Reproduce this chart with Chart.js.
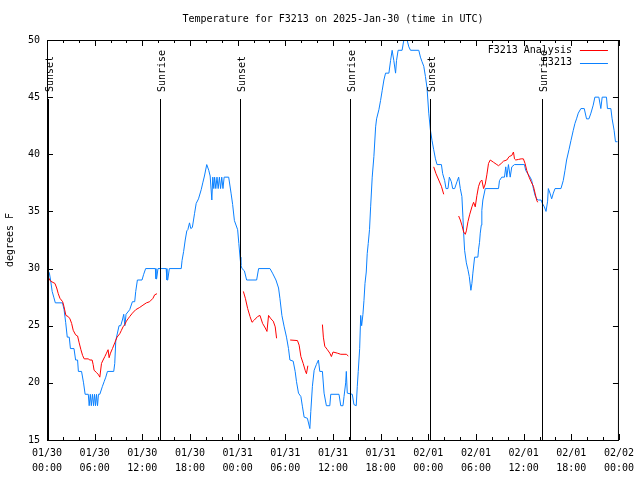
<!DOCTYPE html>
<html>
<head>
<meta charset="utf-8">
<script src="https://cdn.jsdelivr.net/npm/chart.js@4"></script>
<style>
  html, body { margin: 0; padding: 0; background: #fff; }
  canvas { display: block; }
</style>
</head>
<body>
<canvas id="chart" width="640" height="480"></canvas>
<script>
'use strict';

// ── Colours / fonts ──────────────────────────────────────────────────────
const COL_ANALYSIS = '#ff0000';
const COL_OBS      = '#0a80ff';
const FONT         = '10px "DejaVu Sans Mono", "Liberation Mono", monospace';

// ── Data (hours since 2025-01-30 00:00 UTC) ──────────────────────────────
const obsHours = [
  0.0, 0.3, 0.45, 0.65, 0.85, 1.05, 1.95, 2.15, 2.35, 2.55, 2.8, 2.95, 3.4, 3.6, 3.85, 3.95, 4.35, 4.6, 4.8, 5.2,
  5.28, 5.31, 5.45, 5.58, 5.72, 5.86, 5.98, 6.11, 6.23, 6.36, 6.48, 6.65, 6.98, 7.19, 7.4, 7.61, 8.4, 8.53, 8.66,
  9.07, 9.28, 9.49, 9.66, 9.8, 9.95, 10.41, 10.75, 11.04, 11.17, 11.38, 11.96, 12.17, 12.42, 13.64, 13.72, 13.8,
  13.97, 15.0, 15.1, 15.2, 15.4, 16.9, 17.0, 17.2, 17.4, 17.6, 17.73, 17.94, 18.1, 18.3, 18.57, 18.78, 19.07,
  19.41, 19.61, 19.82, 20.11, 20.36, 20.54, 20.75, 20.87, 21.0, 21.1, 21.25, 21.4, 21.55, 21.7, 21.85, 22.0,
  22.15, 22.3, 22.87, 23.17, 23.37, 23.59, 24.0, 24.15, 24.3, 24.4, 24.55, 24.85, 25.13, 26.39, 26.64, 28.07,
  28.39, 28.82, 29.15, 29.32, 29.57, 29.86, 30.15, 30.4, 30.58, 30.99, 31.24, 31.41, 31.66, 31.96, 32.16, 32.37,
  32.78, 33.09, 33.21, 33.41, 33.63, 33.91, 34.17, 34.34, 34.67, 34.88, 35.17, 35.6, 35.72, 36.76, 36.98, 37.26,
  37.39, 37.6, 37.68, 37.8, 38.43, 38.64, 38.93, 39.06, 39.18, 39.36, 39.49, 39.61, 39.77, 39.9, 40.03, 40.19,
  40.31, 40.44, 40.6, 40.74, 40.94, 41.15, 41.37, 41.49, 41.78, 41.99, 42.2, 42.41, 42.62, 43.04, 43.25, 43.45,
  43.66, 43.88, 44.0, 44.2, 44.7, 44.92, 45.33, 45.55, 45.76, 46.8, 47.01, 47.21, 47.43, 47.64, 47.84, 48.06,
  48.27, 48.47, 48.68, 48.9, 49.1, 49.65, 49.81, 50.06, 50.23, 50.48, 50.65, 50.9, 51.07, 51.32, 51.61, 51.82,
  52.03, 52.23, 52.36, 52.45, 52.57, 52.79, 52.99, 53.16, 53.36, 53.49, 53.61, 53.83, 54.24, 54.33, 54.45, 54.54,
  54.67, 54.74, 54.87, 55.17, 56.84, 56.96, 57.25, 57.59, 57.75, 57.88, 58.09, 58.31, 58.51, 58.85, 60.1, 60.26,
  60.51, 60.82, 61.02, 61.23, 61.44, 61.64, 61.86, 62.2, 62.36, 62.61, 62.82, 63.02, 63.11, 63.32, 63.53, 63.74,
  63.95, 64.7, 64.99, 65.21, 65.41, 65.71, 65.96, 66.25, 66.46, 66.66, 66.88, 67.21, 67.63, 67.92, 68.22, 68.47,
  68.76, 68.97, 69.47, 69.72, 69.89, 70.43, 70.55, 70.98, 71.14, 71.39, 71.56, 71.81
];
const obsTemps = [
  30, 29.6, 29, 28, 27.5, 27, 27, 26.4, 25.3, 24, 24, 23, 23, 22, 22, 21, 21, 20, 19, 19,
  19, 18, 19, 18, 19, 18, 19, 18, 19, 18, 19, 19, 19.7, 20.1, 20.5, 21, 21, 21.7, 23.7,
  25, 25, 25.5, 26, 25, 26, 26.4, 27.1, 27.1, 28, 29, 29, 29.5, 30, 30, 29.1, 29.1,
  30, 30, 29, 29, 30, 30, 30.7, 31.5, 32.5, 33.3, 33.4, 34.0, 33.5, 33.6, 34.8, 35.7, 36.1,
  36.9, 37.5, 38.1, 39.1, 38.6, 38.1, 36.0, 38, 37, 38, 37, 38, 37, 38, 37, 38,
  37, 38, 38, 36.6, 35.6, 34.2, 33.4, 32.2, 31, 30.3, 30, 29.8, 29, 29, 30, 30,
  29.6, 29, 28.3, 27.4, 25.9, 24.9, 24, 23, 22, 21.9, 21, 20.1, 19.1, 18.8, 17.9, 17,
  16.9, 16.0, 17.5, 19.7, 21.1, 21.6, 22.0, 21, 21, 19.1, 18, 18, 19, 19, 18, 18,
  18.8, 20, 21, 19.1, 19, 18.1, 18, 19.7, 21, 23, 25.9, 25, 26, 27.2, 28.7, 29.7,
  31.3, 32.2, 33.4, 35.4, 38.0, 39.8, 42.4, 43.1, 43.9, 44.7, 45.6, 46.5, 47.1, 47.1, 48.2, 49.1,
  48.2, 47.1, 48.2, 49.1, 49.1, 50, 50, 49.4, 49.1, 49.1, 48.5, 48.1, 47.7, 46.8, 45.8, 43.6,
  42.1, 41.2, 40.4, 39.6, 39.1, 39.1, 38.3, 37.7, 37, 37, 38, 37.6, 37, 37, 37.6, 38,
  37, 36.3, 34.5, 33.1, 31.6, 30.5, 29.9, 29.3, 28.1, 28.7, 29.6, 31, 31, 31.7, 32.3, 33.1,
  33.8, 35.1, 36.0, 37, 37, 37.7, 38, 38, 38.9, 38, 39.1, 38, 38.9, 39.1, 39.1, 38.6,
  38.3, 38, 37.7, 37, 36.4, 36.1, 36.0, 36, 35.7, 35.4, 35.0, 35.9, 37.0, 36.6, 36.1, 36.6,
  37, 37, 37.7, 38.6, 39.5, 40.4, 41.2, 42.1, 42.7, 43.1, 43.6, 44.0, 44.0, 43.1, 43.1, 43.6,
  44.3, 45.0, 45, 44.0, 45, 45, 44, 44, 43.1, 42.1, 41.1, 41.1
];

// null temperature = gap in the analysis line
const anaHours = [
  0.1, 0.45, 1.0, 1.22, 1.42, 1.63, 1.97, 2.13, 2.38, 2.67, 2.89, 3.1, 3.3, 3.6, 3.85, 4.05, 4.27, 4.48, 4.68,
  5.18, 5.4, 5.68, 5.81, 5.93, 6.24, 6.49, 6.65, 6.86, 7.06, 7.28, 7.49, 7.69, 7.82, 7.99, 8.24, 8.53, 8.82,
  9.16, 9.37, 9.57, 9.79, 10.0, 10.2, 10.41, 10.75, 11.17, 11.67, 12.08, 12.51, 12.92, 13.34, 13.55, 13.84,
  19.0,
  24.72, 24.97, 25.26, 25.56, 25.81, 26.1, 26.51, 26.81, 27.14, 27.48, 27.69, 27.89, 28.19, 28.48, 28.73, 28.9,
  29.8,
  30.61, 31.53, 31.74, 31.96, 32.25, 32.5, 32.66, 32.84,
  33.8,
  34.67, 34.79, 34.97, 35.3, 35.6, 35.8, 36.01, 36.55, 36.98, 37.39, 37.68, 37.93,
  43.0,
  48.68, 48.97, 49.31, 49.65, 49.94,
  51.0,
  51.82, 52.03, 52.23, 52.45, 52.66, 52.79, 52.99, 53.2, 53.49, 53.7, 53.91, 54.12, 54.33, 54.54, 54.74, 54.96,
  55.17, 55.37, 55.58, 55.8, 56.21, 56.63, 56.84, 57.18, 57.47, 57.88, 58.18, 58.51, 58.72, 58.85, 59.01, 59.35,
  59.69, 59.97, 60.18, 60.39, 60.69, 60.94, 61.23, 61.44, 61.64, 61.77
];
const anaTemps = [
  29.3, 28.9, 28.7, 28.3, 27.8, 27.4, 27.1, 26.7, 25.9, 25.8, 25.6, 25.2, 24.6, 24.2, 24.1, 23.5, 22.9, 22.4, 22.1,
  22.1, 22.0, 22, 21.6, 21.1, 20.9, 20.7, 20.5, 21.7, 22.0, 22.3, 22.6, 22.9, 22.2, 22.6, 23.0, 23.5, 24.0,
  24.3, 24.6, 24.9, 25.1, 25.4, 25.6, 25.8, 26.1, 26.4, 26.6, 26.8, 27.0, 27.1, 27.4, 27.7, 27.8,
  null,
  28.0, 27.4, 26.5, 25.8, 25.3, 25.5, 25.8, 25.9, 25.2, 24.8, 24.5, 25.9, 25.6, 25.4, 24.9, 23.9,
  null,
  23.75, 23.7, 23.3, 22.3, 21.7, 21.1, 20.8, 21.5,
  null,
  25.1, 24.0, 23.2, 22.9, 22.6, 22.3, 22.7, 22.6, 22.5, 22.5, 22.5, 22.35,
  null,
  38.9, 38.3, 37.75, 37.2, 36.5,
  null,
  34.6, 34.25, 33.8, 33.2, 33.0, 33.3, 34.1, 34.7, 35.4, 35.8, 35.4, 36.4, 37.2, 37.6, 37.75, 37.0,
  37.4, 38.2, 39.2, 39.5, 39.3, 39.1, 39.0, 39.2, 39.4, 39.5, 39.8, 39.9, 40.2, 39.6, 39.5, 39.55,
  39.6, 39.6, 39.2, 38.6, 38.0, 37.6, 37.2, 36.6, 36.0, 35.8
];

// Sunrise / sunset markers
const eventHours  = [0.1, 14.18, 24.3, 38.18, 48.27, 62.27];
const eventLabels = ['Sunset', 'Sunrise', 'Sunset', 'Sunrise', 'Sunset', 'Sunrise'];

// Tick labels every 6 hours
const xTickDates = ['01/30', '01/30', '01/30', '01/30', '01/31', '01/31', '01/31', '01/31',
                    '02/01', '02/01', '02/01', '02/01', '02/02'];
const xTickTimes = ['00:00', '06:00', '12:00', '18:00', '00:00', '06:00', '12:00', '18:00',
                    '00:00', '06:00', '12:00', '18:00', '00:00'];

const toPoints = (xs, ys) => xs.map((x, i) => ({ x, y: ys[i] }));

// ── Gnuplot-style frame, inward ticks, markers, legend, titles ───────────
const framePlugin = {
  id: 'frame',
  afterDraw(chart) {
    const { ctx, chartArea: a, scales: { x, y } } = chart;
    ctx.save();
    ctx.strokeStyle = '#000';
    ctx.lineWidth = 1;
    ctx.strokeRect(a.left + 0.5, a.top + 0.5, a.right - a.left - 1, a.bottom - a.top);

    // x ticks every 2 h, longer every 6 h, on bottom and top
    ctx.beginPath();
    for (let h = 0; h <= 72; h += 2) {
      const px = Math.round(x.getPixelForValue(h)) + 0.5;
      const len = h % 6 === 0 ? 6 : 3;
      ctx.moveTo(px, a.bottom); ctx.lineTo(px, a.bottom - len);
      ctx.moveTo(px, a.top);    ctx.lineTo(px, a.top + len);
    }
    for (let v = 15; v <= 50; v += 5) {
      const py = Math.round(y.getPixelForValue(v)) + 0.5;
      ctx.moveTo(a.left, py);  ctx.lineTo(a.left + 6, py);
      ctx.moveTo(a.right, py); ctx.lineTo(a.right - 6, py);
    }
    ctx.stroke();

    // sunrise / sunset lines with rotated labels
    ctx.font = FONT;
    ctx.fillStyle = '#000';
    eventHours.forEach((h, i) => {
      const px = Math.round(x.getPixelForValue(h)) + 0.5;
      ctx.beginPath();
      ctx.moveTo(px, a.top + 59);
      ctx.lineTo(px, a.bottom);
      ctx.stroke();
      ctx.save();
      ctx.translate(px + 2, a.top + 52);
      ctx.rotate(-Math.PI / 2);
      ctx.textAlign = 'left';
      ctx.textBaseline = 'middle';
      ctx.fillText(eventLabels[i], 0, 0);
      ctx.restore();
    });

    // legend (top right, inside plot)
    const items = [['F3213 Analysis', COL_ANALYSIS], ['F3213', COL_OBS]];
    ctx.textAlign = 'right';
    ctx.textBaseline = 'middle';
    items.forEach(([label, col], i) => {
      const ly = a.top + 10 + i * 12.5;
      ctx.fillStyle = '#000';
      ctx.fillText(label, a.right - 47, ly);
      ctx.strokeStyle = col;
      ctx.beginPath();
      ctx.moveTo(a.right - 39, Math.round(ly) + 0.5);
      ctx.lineTo(a.right - 11, Math.round(ly) + 0.5);
      ctx.stroke();
    });

    // title + y axis label
    ctx.fillStyle = '#000';
    ctx.textAlign = 'center';
    ctx.fillText('Temperature for F3213 on 2025-Jan-30 (time in UTC)', (a.left + a.right) / 2, 19);
    ctx.save();
    ctx.translate(10, (a.top + a.bottom) / 2);
    ctx.rotate(-Math.PI / 2);
    ctx.fillText('degrees F', 0, 0);
    ctx.restore();
    ctx.restore();
  },
};

const chart = new Chart(document.getElementById('chart'), {
  type: 'line',
  data: {
    datasets: [
      {
        label: 'F3213 Analysis',
        data: toPoints(anaHours, anaTemps),
        borderColor: COL_ANALYSIS,
        borderWidth: 1,
        pointRadius: 0,
        spanGaps: false,
        tension: 0,
      },
      {
        label: 'F3213',
        data: toPoints(obsHours, obsTemps),
        borderColor: COL_OBS,
        borderWidth: 1,
        pointRadius: 0,
        tension: 0,
      },
    ],
  },
  options: {
    responsive: false,
    animation: false,
    events: [],
    layout: { padding: { top: 40, right: 19, left: 0, bottom: 0 } },
    scales: {
      x: {
        type: 'linear',
        min: 0, max: 72,
        afterFit: s => { s.height = 40; },
        grid: { display: false, drawTicks: false },
        border: { display: false },
        ticks: {
          stepSize: 6,
          autoSkip: false,
          maxRotation: 0,
          padding: 6,
          color: '#000',
          font: { family: '"DejaVu Sans Mono", "Liberation Mono", monospace', size: 10, lineHeight: 1.5 },
          callback: v => [xTickDates[v / 6], xTickTimes[v / 6]],
        },
      },
      y: {
        min: 15, max: 50,
        afterFit: s => { s.width = 47; },
        grid: { display: false, drawTicks: false },
        border: { display: false },
        ticks: {
          stepSize: 5,
          padding: 7,
          color: '#000',
          font: { family: '"DejaVu Sans Mono", "Liberation Mono", monospace', size: 10 },
        },
      },
    },
    plugins: {
      legend: { display: false },
      tooltip: { enabled: false },
    },
  },
  plugins: [framePlugin],
});
</script>
</body>
</html>
